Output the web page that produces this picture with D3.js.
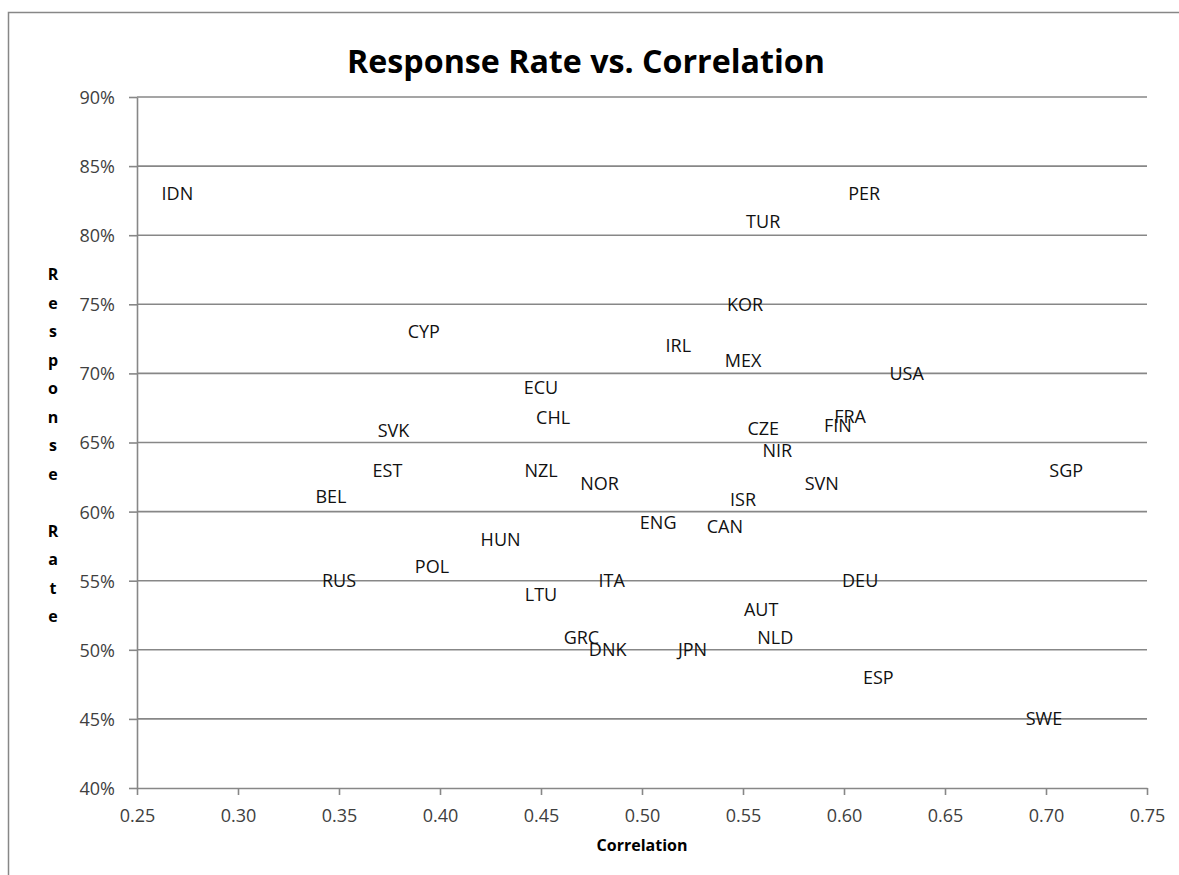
<!DOCTYPE html>
<html>
<head>
<meta charset="utf-8">
<script src="https://cdn.jsdelivr.net/npm/d3@7"></script>
<style>
  html, body { margin: 0; padding: 0; background: #fff; }
  svg { display: block; }
</style>
</head>
<body>
<svg id="chart" width="1179" height="875"></svg>
<script>
// ---- data ----
const countries = ["IDN","PER","TUR","KOR","CYP","IRL","MEX","USA","ECU","CHL","FRA","FIN","SVK","CZE","NIR","EST","NZL","SGP","NOR","SVN","BEL","ISR","ENG","CAN","HUN","POL","RUS","ITA","DEU","LTU","AUT","GRC","NLD","DNK","JPN","ESP","SWE"];
const correlation = [0.270,0.610,0.560,0.551,0.392,0.518,0.550,0.631,0.450,0.456,0.603,0.597,0.377,0.560,0.567,0.374,0.450,0.710,0.479,0.589,0.346,0.550,0.508,0.541,0.430,0.396,0.350,0.485,0.608,0.450,0.559,0.470,0.566,0.483,0.525,0.617,0.699];
const responseRate = [0.83,0.83,0.81,0.75,0.73,0.72,0.709,0.70,0.69,0.668,0.669,0.662,0.659,0.66,0.644,0.63,0.63,0.63,0.62,0.62,0.611,0.609,0.592,0.589,0.58,0.56,0.55,0.55,0.55,0.54,0.529,0.509,0.509,0.50,0.50,0.48,0.45];
const xTicks = [0.25,0.30,0.35,0.40,0.45,0.50,0.55,0.60,0.65,0.70,0.75];
const yTicks = [0.40,0.45,0.50,0.55,0.60,0.65,0.70,0.75,0.80,0.85,0.90];
const titleText = "Response Rate vs. Correlation";
const xTitle = "Correlation";
const yTitle = "Response Rate";

// ---- layout ----
const svg = d3.select("#chart");
const plotLeft = 137, plotRight = 1147, plotTop = 97, plotBottom = 788;
const gridColor = "#878787";
const font = "'Open Sans', 'DejaVu Sans', sans-serif";

const x = d3.scaleLinear().domain([0.25, 0.75]).range([plotLeft, plotRight]);
const y = d3.scaleLinear().domain([0.40, 0.90]).range([plotBottom, plotTop]);

// outer chart border (right/bottom extend past the canvas)
svg.append("rect")
  .attr("x", 8.5).attr("y", 12.5)
  .attr("width", 1300).attr("height", 1000)
  .attr("fill", "none").attr("stroke", gridColor).attr("stroke-width", 1.5);

// title
const title = svg.append("text")
  .attr("x", 586).attr("y", 73)
  .attr("text-anchor", "middle")
  .attr("font-family", font).attr("font-weight", "bold")
  .attr("font-size", 28).attr("fill", "#000")
  .text(titleText);
{
  const w = title.node().getComputedTextLength();
  if (w > 0) title.attr("font-size", 28 * 478 / w);
}

// horizontal gridlines
svg.append("g").selectAll("line").data(yTicks.slice(1)).join("line")
  .attr("x1", plotLeft).attr("x2", plotRight)
  .attr("y1", d => y(d)).attr("y2", d => y(d))
  .attr("stroke", gridColor).attr("stroke-width", 1.6);

// y axis
const yAxis = svg.append("g")
  .attr("transform", `translate(${plotLeft},0)`)
  .call(d3.axisLeft(y).tickValues(yTicks).tickFormat(d3.format(".0%")).tickSizeInner(8).tickSizeOuter(0).tickPadding(14));
yAxis.select(".domain").attr("stroke", gridColor).attr("stroke-width", 1.6);
yAxis.selectAll(".tick line").attr("stroke", gridColor).attr("stroke-width", 1.6);
yAxis.selectAll(".tick text")
  .attr("font-family", font).attr("font-size", 18).attr("fill", "#404040")
  .attr("dy", "0.36em");

// x axis
const xAxis = svg.append("g")
  .attr("transform", `translate(0,${plotBottom})`)
  .call(d3.axisBottom(x).tickValues(xTicks).tickFormat(d3.format(".2f")).tickSizeInner(7).tickSizeOuter(0).tickPadding(21));
xAxis.select(".domain").attr("stroke", gridColor).attr("stroke-width", 1.6);
xAxis.selectAll(".tick line").attr("stroke", gridColor).attr("stroke-width", 1.6);
xAxis.selectAll(".tick text")
  .attr("font-family", font).attr("font-size", 18).attr("fill", "#404040")
  .attr("dy", "0.36em");

// x axis title
svg.append("text")
  .attr("x", (plotLeft + plotRight) / 2).attr("y", 845).attr("dy", "0.36em")
  .attr("text-anchor", "middle")
  .attr("font-family", font).attr("font-weight", "bold")
  .attr("font-size", 16).attr("fill", "#000")
  .text(xTitle);

// y axis title: stacked letters
const letters = yTitle.split("");
const step = 28.5;
const startY = (plotTop + plotBottom) / 2 + 3 - step * (letters.length - 1) / 2;
svg.append("g").selectAll("text").data(letters).join("text")
  .attr("x", 53).attr("y", (d, i) => startY + i * step).attr("dy", "0.36em")
  .attr("text-anchor", "middle")
  .attr("font-family", font).attr("font-weight", "bold")
  .attr("font-size", 16).attr("fill", "#000")
  .text(d => d);

// data labels (no markers)
const pts = countries.map((c, i) => ({ c, x: correlation[i], y: responseRate[i] }));
svg.append("g").selectAll("text").data(pts).join("text")
  .attr("x", d => x(d.x)).attr("y", d => y(d.y)).attr("dy", "0.36em")
  .attr("text-anchor", "middle")
  .attr("font-family", font).attr("font-size", 18).attr("fill", "#111")
  .text(d => d.c);
</script>
</body>
</html>
